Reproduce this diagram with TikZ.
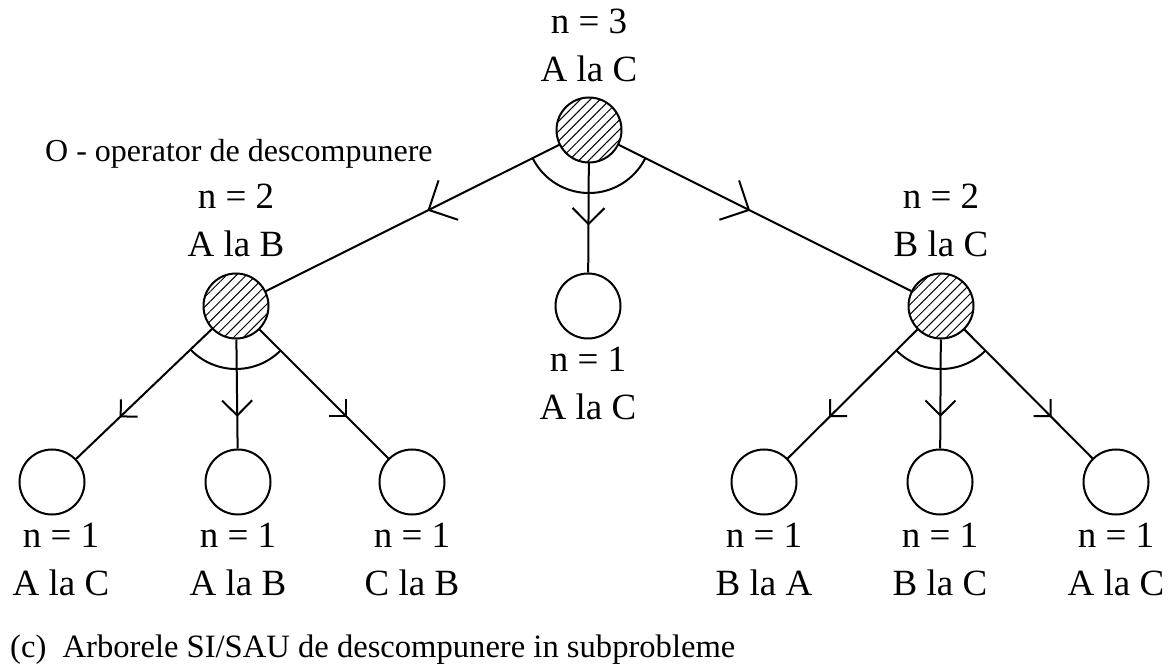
\documentclass[tikz,border=0pt]{standalone}
\usepackage{fontspec}
\setmainfont{Liberation Serif}
\usepackage{tikz}
\usetikzlibrary{calc}
\usetikzlibrary{arrows.meta}
\usetikzlibrary{positioning}
\usetikzlibrary{decorations.markings}
\usetikzlibrary{patterns.meta}
\tikzset{
  nod/.style = {circle, draw, line width=2pt, minimum size=65pt, inner sep=0pt},
  orn/.style = {nod, pattern={Lines[angle=45, distance=7pt, line width=1pt]}},
  lbl/.style = {inner sep=0pt, align=center, font=\fontsize{37}{48}\selectfont},
  note/.style = {inner sep=0pt, font=\fontsize{32}{40}\selectfont},
  edge/.style = {line width=2pt},
  mid/.style 2 args = {postaction=decorate, decoration={markings,
      mark=at position #1 with {\arrow{Straight Barb[length=#2, width'=0pt 2]}}}},
}
\newcommand\andarc[3]{\draw[line width=2pt] let \p1=($(#2)-(#1)$), \p2=($(#3)-(#1)$),
  \n1={atan2(\y1,\x1)}, \n2={atan2(\y2,\x2)} in
  ($(#1)+(\n1:63pt)$) arc[start angle=\n1, end angle=\n2, radius=63pt];}

\begin{document}
\begin{tikzpicture}[x=1pt, y=1pt]
\useasboundingbox (0,0) rectangle (1170,670);
\node [orn] (A) at (589,540) {};
\node [orn] (B) at (236,364) {};
\node [nod] (C) at (588,364) {};
\node [orn] (D) at (941,364) {};
\node [nod] (B1) at (52,188) {};
\node [nod] (B2) at (238,188) {};
\node [nod] (B3) at (412,188) {};
\node [nod] (D1) at (764,188) {};
\node [nod] (D2) at (940,188) {};
\node [nod] (D3) at (1116,188) {};

\node [lbl, above=15pt of A] (A-t) {n = 3\\A la C};
\node [lbl, above=15pt of B] (B-t) {n = 2\\A la B};
\node [lbl, above=15pt of D] (D-t) {n = 2\\B la C};
\node [lbl, below=7pt of C] (C-t) {n = 1\\A la C};
\node [lbl, below=7pt of B1, xshift=9pt] (B1-t) {n = 1\\A la C};
\node [lbl, below=7pt of B2] (B2-t) {n = 1\\A la B};
\node [lbl, below=7pt of B3] (B3-t) {n = 1\\C la B};
\node [lbl, below=7pt of D1] (D1-t) {n = 1\\B la A};
\node [lbl, below=7pt of D2] (D2-t) {n = 1\\B la C};
\node [lbl, below=7pt of D3] (D3-t) {n = 1\\A la C};

\draw [edge, mid={0.45}{22pt}] (A) -- (B);
\draw [edge, mid={0.57}{16pt}] (A) -- (C);
\draw [edge, mid={0.45}{22pt}] (A) -- (D);
\draw [edge, mid={0.68}{12pt}] (B) -- (B1);
\draw [edge, mid={0.71}{15pt}] (B) -- (B2);
\draw [edge, mid={0.68}{12pt}] (B) -- (B3);
\draw [edge, mid={0.68}{12pt}] (D) -- (D1);
\draw [edge, mid={0.71}{15pt}] (D) -- (D2);
\draw [edge, mid={0.68}{12pt}] (D) -- (D3);

\andarc{A}{B}{D}
\andarc{B}{B1}{B3}
\andarc{D}{D1}{D3}

\node [note, anchor=base west] (op) at (45,508) {O - operator de descompunere};
\node [note, anchor=base west, font=\fontsize{32.6}{40}\selectfont] (cap) at (10,13) {(c)\ \ Arborele SI/SAU de descompunere in subprobleme};
\end{tikzpicture}
\end{document}
